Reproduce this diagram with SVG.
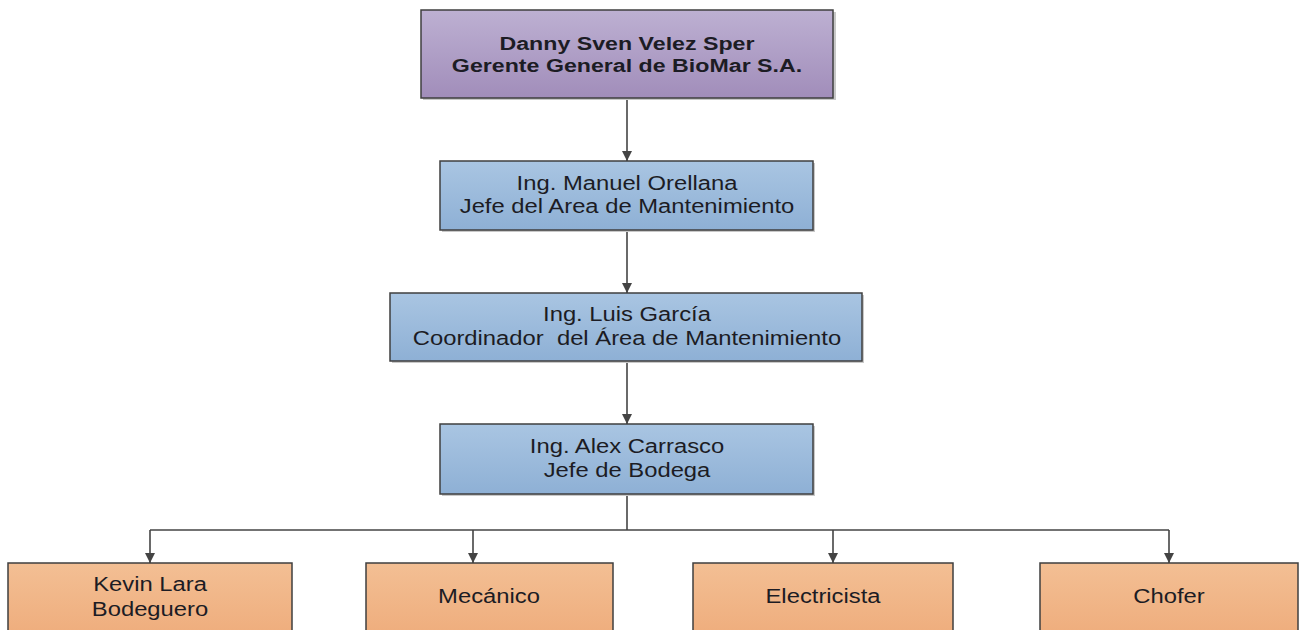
<svg xmlns="http://www.w3.org/2000/svg" width="1299" height="630" viewBox="0 0 1299 630">
<style>
  .box { stroke: #3f3f3f; stroke-width: 1.5; }
  .shadow { fill: #c8c8c8; }
  .t { font-family: "Liberation Sans", Arial, sans-serif; font-size: 20px; fill: #1c1c24; text-anchor: middle; }
  .tb { font-family: "Liberation Sans", Arial, sans-serif; font-size: 19px; font-weight: bold; fill: #1c1c24; text-anchor: middle; }
  .conn { fill: none; stroke: #444; stroke-width: 1.6; }
</style>
<defs>
  <linearGradient id="gPurple" x1="0" y1="0" x2="0" y2="1">
    <stop offset="0" stop-color="#bdb0d2"/>
    <stop offset="1" stop-color="#a18dba"/>
  </linearGradient>
  <linearGradient id="gBlue" x1="0" y1="0" x2="0" y2="1">
    <stop offset="0" stop-color="#a9c5e2"/>
    <stop offset="1" stop-color="#8eb0d5"/>
  </linearGradient>
  <linearGradient id="gOrange" x1="0" y1="0" x2="0" y2="1">
    <stop offset="0" stop-color="#f3bf94"/>
    <stop offset="1" stop-color="#eeab7a"/>
  </linearGradient>
  <marker id="arrow" viewBox="0 0 10 10" refX="10" refY="5" markerWidth="10" markerHeight="10" markerUnits="userSpaceOnUse" orient="auto">
    <path d="M0,0 L10,5 L0,10 Z" fill="#444"/>
  </marker>
</defs>
<rect width="1299" height="630" fill="#ffffff"/>

<g id="connectors">
  <line class="conn" x1="627" y1="98" x2="627" y2="161" marker-end="url(#arrow)"/>
  <line class="conn" x1="627" y1="230" x2="627" y2="293" marker-end="url(#arrow)"/>
  <line class="conn" x1="627" y1="361" x2="627" y2="424" marker-end="url(#arrow)"/>
  <polyline class="conn" points="627,494 627,530"/>
  <polyline class="conn" points="150,530 1169,530"/>
  <line class="conn" x1="150" y1="530" x2="150" y2="563" marker-end="url(#arrow)"/>
  <line class="conn" x1="473" y1="530" x2="473" y2="563" marker-end="url(#arrow)"/>
  <line class="conn" x1="833" y1="530" x2="833" y2="563" marker-end="url(#arrow)"/>
  <line class="conn" x1="1169" y1="530" x2="1169" y2="563" marker-end="url(#arrow)"/>
</g>

<g id="node-gerente">
  <rect class="shadow" x="423" y="12" width="413" height="88"/>
  <rect class="box" x="421" y="10" width="412" height="88" fill="url(#gPurple)"/>
  <g transform="translate(627 0) scale(1.22 1)">
    <text class="tb" x="0" y="50">Danny Sven Velez Sper</text>
    <text class="tb" x="0" y="72">Gerente General de BioMar S.A.</text>
  </g>
</g>

<g id="node-manuel">
  <rect class="shadow" x="442" y="163" width="373" height="69"/>
  <rect class="box" x="440" y="161" width="373" height="69" fill="url(#gBlue)"/>
  <g transform="translate(627 0) scale(1.19 1)">
    <text class="t" x="0" y="190">Ing. Manuel Orellana</text>
    <text class="t" x="0" y="213">Jefe del Area de Mantenimiento</text>
  </g>
</g>

<g id="node-luis">
  <rect class="shadow" x="392" y="295" width="472" height="68"/>
  <rect class="box" x="390" y="293" width="472" height="68" fill="url(#gBlue)"/>
  <g transform="translate(627 0) scale(1.19 1)">
    <text class="t" x="0" y="321">Ing. Luis García</text>
    <text class="t" x="0" y="345" xml:space="preserve">Coordinador  del Área de Mantenimiento</text>
  </g>
</g>

<g id="node-alex">
  <rect class="shadow" x="442" y="426" width="373" height="70"/>
  <rect class="box" x="440" y="424" width="373" height="70" fill="url(#gBlue)"/>
  <g transform="translate(627 0) scale(1.19 1)">
    <text class="t" x="0" y="453">Ing. Alex Carrasco</text>
    <text class="t" x="0" y="477">Jefe de Bodega</text>
  </g>
</g>

<g id="node-kevin">
  <rect class="box" x="8" y="563" width="284" height="80" fill="url(#gOrange)"/>
  <g transform="translate(150 0) scale(1.19 1)">
    <text class="t" x="0" y="591">Kevin Lara</text>
    <text class="t" x="0" y="616">Bodeguero</text>
  </g>
</g>

<g id="node-mecanico">
  <rect class="box" x="366" y="563" width="247" height="80" fill="url(#gOrange)"/>
  <g transform="translate(489 0) scale(1.19 1)">
    <text class="t" x="0" y="603">Mecánico</text>
  </g>
</g>

<g id="node-electricista">
  <rect class="box" x="693" y="563" width="260" height="80" fill="url(#gOrange)"/>
  <g transform="translate(823 0) scale(1.19 1)">
    <text class="t" x="0" y="603">Electricista</text>
  </g>
</g>

<g id="node-chofer">
  <rect class="box" x="1040" y="563" width="258" height="80" fill="url(#gOrange)"/>
  <g transform="translate(1169 0) scale(1.19 1)">
    <text class="t" x="0" y="603">Chofer</text>
  </g>
</g>
</svg>
